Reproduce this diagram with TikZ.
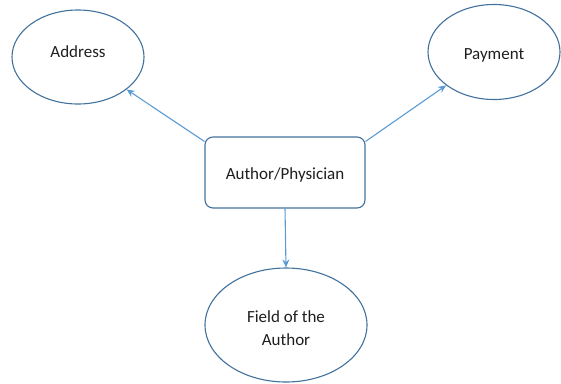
\documentclass[tikz,border=0pt]{standalone}
\usepackage{fontspec}
\setmainfont{Carlito}
\usetikzlibrary{shapes.geometric,arrows.meta}
\definecolor{edgeblue}{RGB}{65,113,156}
\definecolor{linkblue}{RGB}{91,155,213}
\definecolor{txt}{RGB}{30,30,30}
\tikzset{
  ent/.style={ellipse, draw=edgeblue, line width=1.1pt, inner sep=0pt},
  lbl/.style={font=\fontsize{17}{23}\selectfont, text=txt, align=center, inner sep=0pt},
  mainbox/.style={rectangle, rounded corners=8pt, draw=edgeblue, line width=1.1pt, minimum width=160pt, minimum height=71pt},
  link/.style={draw=linkblue, line width=1.1pt, -{Stealth[length=8pt,width=7pt]}}
}
\begin{document}
\begin{tikzpicture}[x=1pt,y=-1pt]
\useasboundingbox (0,0) rectangle (561,383);
\node[ent, minimum width=132pt, minimum height=94pt] (addr) at (78,57) {};
\node[ent, minimum width=132pt, minimum height=95pt] (pay) at (494,52) {};
\node[mainbox] (auth) at (285,172.5) {};
\node[ent, minimum width=162pt, minimum height=114pt] (field) at (286,325) {};
\node[lbl] (addrtxt) at ([yshift=5pt]addr.center) {Address};
\node[lbl] (paytxt) at ([yshift=-3pt]pay.center) {Payment};
\node[lbl] (authtxt) at ([yshift=-2pt]auth.center) {Author/Physician};
\node[lbl] (fieldtxt) at ([yshift=-3pt]field.center) {Field of the\\Author};
\draw[link] ([yshift=-5pt]auth.north west) -- (addr);
\draw[link] ([yshift=-5pt]auth.north east) -- (pay);
\draw[link] (auth.south) -- (field.north);
\end{tikzpicture}
\end{document}
